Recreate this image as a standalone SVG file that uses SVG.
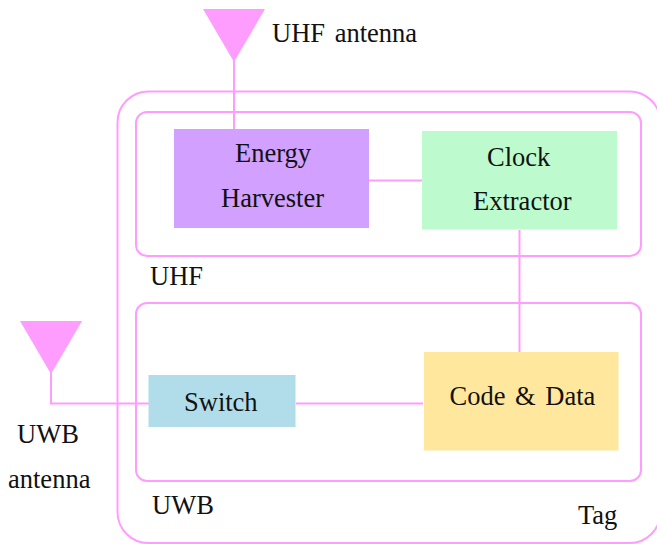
<svg xmlns="http://www.w3.org/2000/svg" width="657" height="544" viewBox="0 0 657 544">
<style>
.c{fill:none;stroke:#ff9dff;stroke-width:2}
.a{fill:#ff9dff}
text{font-family:"Liberation Serif","Times New Roman",serif;font-size:26.500px;fill:#111}
</style>
<rect width="657" height="544" fill="#fff"/>
<g id="tag"><rect class="c" x="117.500" y="91.500" width="543" height="451.500" rx="31" ry="31"/><text x="578" y="524">Tag</text></g>
<g id="uhf"><rect class="c" x="136" y="112" width="505" height="144" rx="11" ry="11"/><text x="150" y="285">UHF</text></g>
<g id="uwb"><rect class="c" x="136" y="303" width="505" height="178" rx="11" ry="11"/><text x="152" y="514">UWB</text></g>
<g id="connectors">
<path class="c" d="M234 60V129"/>
<path class="c" d="M369 180.500H422"/>
<path class="c" d="M519.500 230V352"/>
<path class="c" d="M51 372V403.500H149"/>
<path class="c" d="M296 403.500H423"/>
</g>
<g id="uhf-antenna"><polygon class="a" points="203,9 265,9 234,62"/><text x="272" y="42" word-spacing="3">UHF antenna</text></g>
<g id="uwb-antenna"><polygon class="a" points="20,321 82,321 51,374"/><text x="17" y="443">UWB</text><text x="8" y="488">antenna</text></g>
<g id="energy-harvester"><rect x="174" y="129" width="195" height="99" fill="#d2a0ff"/><text x="235" y="162">Energy</text><text x="221" y="207">Harvester</text></g>
<g id="clock-extractor"><rect x="422" y="131" width="195" height="98.500" fill="#bdfbcf"/><text x="487" y="166">Clock</text><text x="473" y="210">Extractor</text></g>
<g id="switch"><rect x="148.500" y="375" width="147" height="52" fill="#b0dde9"/><text x="184" y="411">Switch</text></g>
<g id="code-data"><rect x="424" y="352" width="194.500" height="98.500" fill="#ffe89e"/><text x="449.500" y="405" word-spacing="3">Code &amp; Data</text></g>
</svg>
